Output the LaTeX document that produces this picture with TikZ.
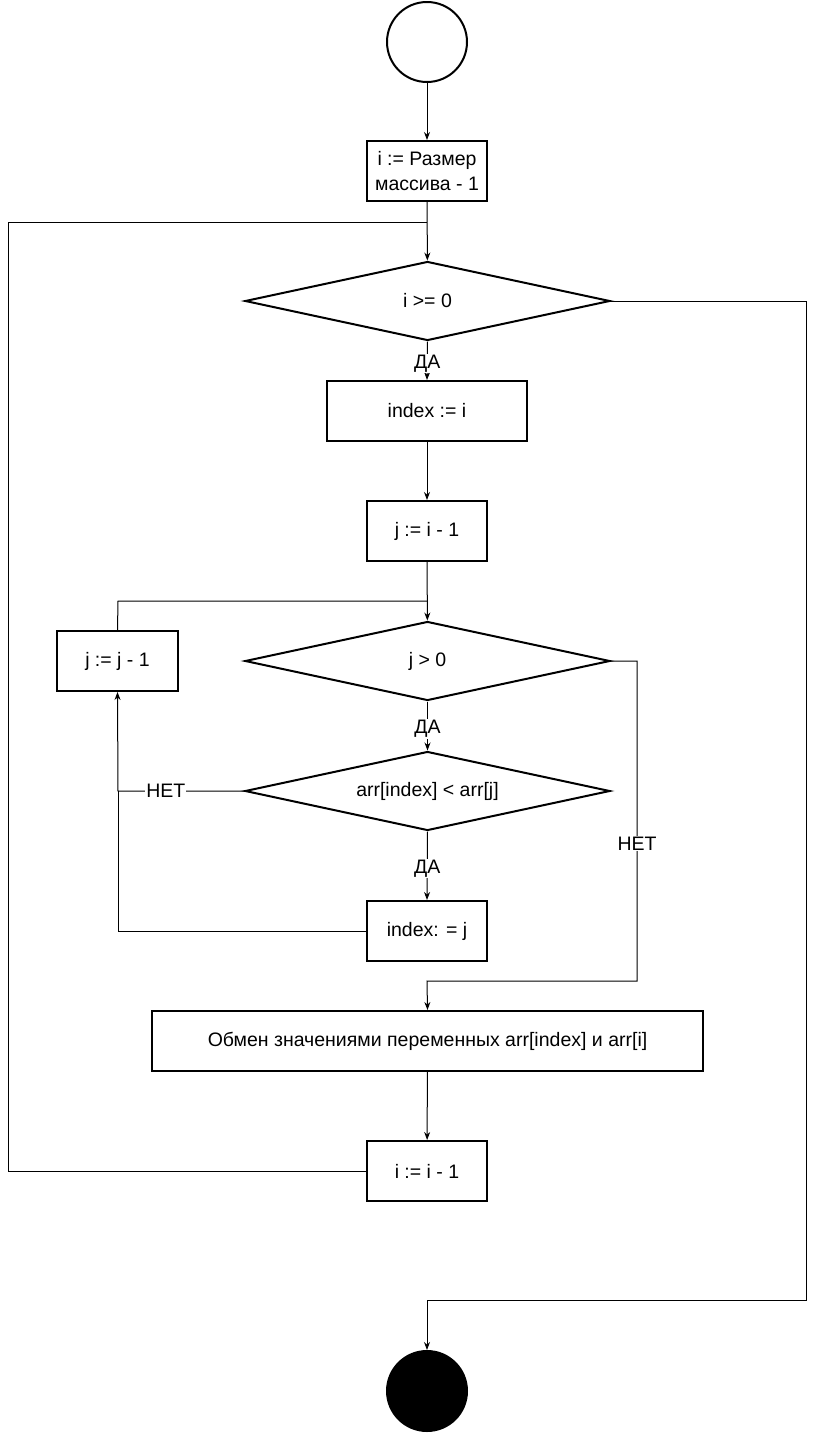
\documentclass[tikz,border=0pt]{standalone}
\usepackage{fontspec}
\setmainfont{Liberation Sans}
\usetikzlibrary{shapes.geometric,arrows.meta}
\begin{document}
\begin{tikzpicture}[x=1pt,y=-1pt,
  every node/.style={font=\fontsize{19.5}{24.5}\selectfont},
  box/.style={draw,line width=2pt,rectangle,inner sep=0pt,align=center,minimum height=60pt},
  dia/.style={draw,line width=2pt,diamond,aspect=4.6,inner sep=0pt,minimum width=365pt,minimum height=79pt},
  term/.style={draw,line width=2pt,circle,minimum size=80pt,inner sep=0pt},
  conn/.style={line width=1pt},
  arr/.style={conn,-{Stealth[length=8pt,width=6pt]}},
  lab/.style={fill=white,inner sep=1pt},
  ylab/.style={lab,yshift=-3pt}]
\path[use as bounding box] (0,0) rectangle (817,1433);
\node[term] (start) at (427,42) {};
\node[box,minimum width=120pt] (b1) at (427,171) {i := Размер\\массива - 1};
\node[dia] (d1) at (427.5,301) {i >= 0};
\node[box,minimum width=200pt] (b2) at (427,411) {index := i};
\node[box,minimum width=120pt] (b3) at (427,531) {j := i - 1};
\node[dia] (d2) at (427.5,661) {j > 0};
\node[box,minimum width=121pt] (b4) at (117.5,661) {j := j - 1};
\node[dia] (d3) at (427.5,791) {arr[index] < arr[j]};
\node[box,minimum width=120pt] (b5) at (427,931) {index: = j};
\node[box,minimum width=551pt] (b6) at (427.5,1041) {Обмен значениями переменных arr[index] и arr[i]};
\node[box,minimum width=120pt] (b7) at (427,1171) {i := i - 1};
\node[term,fill=black] (end) at (427,1391) {};
\coordinate (l1) at (8,1171);
\coordinate (l2) at (8,222);
\coordinate (j1) at (427,222);
\coordinate (r1) at (806,301);
\coordinate (r2) at (806,1300);
\coordinate (r3) at (427,1300);
\coordinate (q1) at (118,601);
\coordinate (q2) at (427,601);
\coordinate (s1) at (637,661);
\coordinate (s2) at (637,981);
\coordinate (s3) at (427,981);
\coordinate (c1) at (118,791);
\coordinate (c2) at (118,931);
\draw[arr] (start) -- (b1);
\draw[arr] (b1) -- (d1);
\draw[conn] (b7.west) -- (l1) -- (l2) -- (j1);
\draw[arr] (d1.south) -- node[ylab]{ДА} (b2.north);
\draw[arr] (d1.east) -- (r1) -- (r2) -- (r3) -- (end.north);
\draw[arr] (b2) -- (b3);
\draw[arr] (b3) -- (d2);
\draw[conn] (b4.north) -- (q1) -- (q2);
\draw[arr] (d2.south) -- node[ylab]{ДА} (d3.north);
\draw[arr] (d2.east) -- (s1) -- node[lab,pos=0.57]{НЕТ} (s2) -- (s3) -- (b6.north);
\draw[arr] (d3.west) -- node[lab,pos=0.62]{НЕТ} (c1) -- (b4.south);
\draw[arr] (d3.south) -- node[ylab]{ДА} (b5.north);
\draw[conn] (b5.west) -- (c2) -- (c1);
\draw[arr] (b6) -- (b7);
\end{tikzpicture}
\end{document}
